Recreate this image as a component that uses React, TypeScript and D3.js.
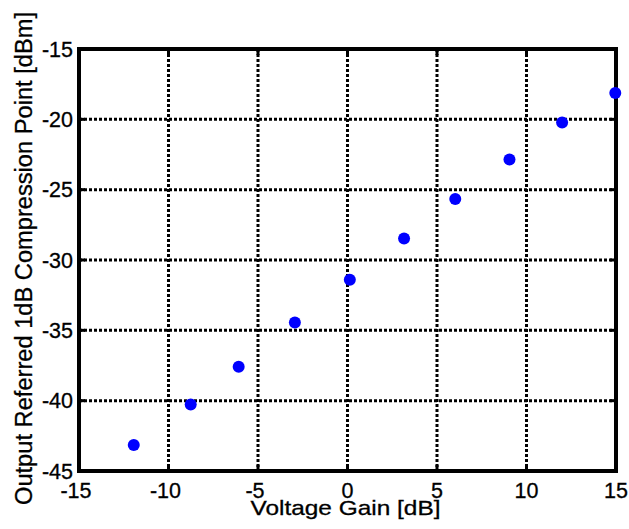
import React from "react";
import * as d3 from "d3";

const gainDb = [-11.94, -8.76, -6.08, -2.94, 0.13, 3.16, 6.02, 9.05, 11.99, 14.96];
const op1dB = [-43.16, -40.27, -37.59, -34.45, -31.4, -28.47, -25.67, -22.86, -20.23, -18.13];
const xTicks = [-15, -10, -5, 0, 5, 10, 15];
const yTicks = [-45, -40, -35, -30, -25, -20, -15];
const xLabel = "Voltage Gain [dB]";
const yLabel = "Output Referred 1dB Compression Point [dBm]";

const W = 629;
const H = 529;
const L = 79;
const R = 616;
const T = 49;
const B = 471;

export default function App() {
  const x = d3.scaleLinear().domain([-15, 15]).range([L, R]);
  const y = d3.scaleLinear().domain([-45, -15]).range([B, T]);
  const font = "'Liberation Sans', Arial, Helvetica, sans-serif";
  const tickLen = 6;
  return (
    <>
      <style>{"body{margin:0}"}</style>
      <svg width={W} height={H} style={{ display: "block", background: "#fff" }}>
        <rect x={0} y={0} width={W} height={H} fill="#fff" />
        {/* grid */}
        {xTicks.slice(1, -1).map((t) => (
          <line key={"gx" + t} x1={x(t)} x2={x(t)} y1={T} y2={B} stroke="#000" strokeWidth={3} strokeDasharray="3,2" />
        ))}
        {yTicks.slice(1, -1).map((t) => (
          <line key={"gy" + t} x1={L} x2={R} y1={y(t)} y2={y(t)} stroke="#000" strokeWidth={3} strokeDasharray="3,2" />
        ))}
        {/* inside ticks */}
        {xTicks.map((t) => (
          <g key={"tx" + t}>
            <line x1={x(t)} x2={x(t)} y1={B} y2={B - tickLen} stroke="#000" strokeWidth={3} />
            <line x1={x(t)} x2={x(t)} y1={T} y2={T + tickLen} stroke="#000" strokeWidth={3} />
          </g>
        ))}
        {yTicks.map((t) => (
          <g key={"ty" + t}>
            <line x1={L} x2={L + tickLen} y1={y(t)} y2={y(t)} stroke="#000" strokeWidth={3} />
            <line x1={R} x2={R - tickLen} y1={y(t)} y2={y(t)} stroke="#000" strokeWidth={3} />
          </g>
        ))}
        {/* box */}
        <rect x={L} y={T} width={R - L} height={B - T} fill="none" stroke="#000" strokeWidth={4} />
        {/* tick labels */}
        {xTicks.map((t) => (
          <text key={"lx" + t} x={x(t) - (t < 0 ? 3 : 0)} y={497.5} textAnchor="middle" fontFamily={font} fontSize={21.5} fill="#000" stroke="#000" strokeWidth={0.3}>
            {t}
          </text>
        ))}
        {yTicks.map((t) => (
          <text key={"ly" + t} x={73} y={y(t)} dy="0.36em" textAnchor="end" fontFamily={font} fontSize={21.5} fill="#000" stroke="#000" strokeWidth={0.3}>
            {t}
          </text>
        ))}
        {/* axis labels */}
        <text x={(L + R) / 2 - 2} y={515} textAnchor="middle" fontFamily={font} fontSize={21} fill="#000" stroke="#000" strokeWidth={0.3} textLength={190} lengthAdjust="spacingAndGlyphs">
          {xLabel}
        </text>
        <text
          transform={`translate(31.5, ${258.5}) rotate(-90)`}
          textAnchor="middle"
          fontFamily={font}
          fontSize={23}
          fill="#000"
          stroke="#000"
          strokeWidth={0.3}
          textLength={493}
          lengthAdjust="spacingAndGlyphs"
        >
          {yLabel}
        </text>
        {/* points */}
        {gainDb.map((g, i) => (
          <circle key={"p" + i} cx={x(g)} cy={y(op1dB[i])} r={6} fill="#0000ff" />
        ))}
      </svg>
    </>
  );
}
